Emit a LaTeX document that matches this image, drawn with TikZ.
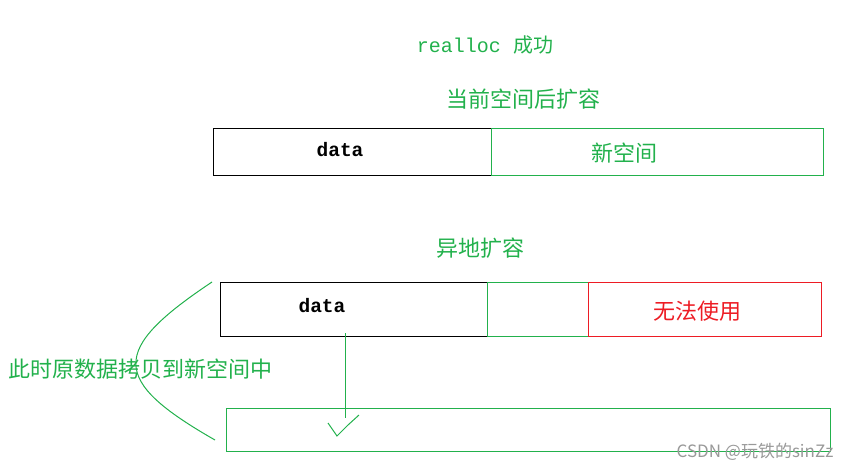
\documentclass[tikz,border=0pt]{standalone}
\usepackage{fontspec}
\setmainfont{Noto Sans CJK SC}
\newfontfamily\mono{Liberation Mono}
\usepackage{tikz}
\usetikzlibrary{positioning}
\definecolor{paintgreen}{RGB}{34,177,76}
\definecolor{paintred}{RGB}{237,28,36}

\begin{document}
\begin{tikzpicture}[x=1pt, y=-1pt,
    cell/.style={draw, line width=1.2pt, anchor=north west, inner sep=0pt},
    greencell/.style={cell, draw=paintgreen, line width=1pt},
    redcell/.style={cell, draw=paintred, line width=1pt},
    cjk/.style={inner sep=0pt, text=paintgreen, font=\fontsize{22}{26}\selectfont},
    code/.style={inner sep=0pt, font=\mono\bfseries\fontsize{19.5}{23}\selectfont},
    greenline/.style={draw=paintgreen, line width=1pt}]
    \useasboundingbox (0,0) rectangle (859,471);

    % realloc in place
    \node[cjk, font=\fontsize{20}{24}\selectfont] (title) at (485,45) {{\mono realloc }成功};
    \node[cjk] (inplace) at (523,99) {当前空间后扩容};
    \node[cell, minimum width=278pt, minimum height=47pt] (olddata) at (213,128) {};
    \node[code] (olddatatxt) at (340,150) {data};
    \node[greencell, minimum width=332pt, minimum height=47pt] (extra) at (491,128) {};
    \node[cjk] (extratxt) at (624,153) {新空间};

    % realloc elsewhere
    \node[cjk] (moved) at (480,248) {异地扩容};
    \node[cell, minimum width=267pt, minimum height=54pt] (data) at (220,282) {};
    \node[code] (datatxt) at (322,306) {data};
    \node[greencell, minimum width=101pt, minimum height=54pt] (free) at (487,282) {};
    \node[redcell, minimum width=233pt, minimum height=54pt] (lost) at (588,282) {};
    \node[cjk, text=paintred] (losttxt) at (697,311) {无法使用};
    \node[greencell, minimum width=604pt, minimum height=43pt] (newspace) at (226,408) {};

    % copy
    \coordinate (from) at (345,333);
    \coordinate (tip) at ([yshift=-10pt]from |- newspace.north);
    \draw[greenline] (from) -- (tip);
    \draw[greenline] (tip) ++(-17,5) -- ++(9,13) -- ++(11,-11) -- ++(11,-10);
    \draw[greenline] (212,282) .. controls (110,350) and (110,380) .. (215,440);
    \node[cjk] (copytxt) at (141,369) {此时原数据拷贝到新空间中};

    \node[inner sep=0pt, text=gray!80, font=\fontsize{17}{20}\selectfont] (mark) at (755,452) {CSDN @玩铁的sinZz};
\end{tikzpicture}
\end{document}
